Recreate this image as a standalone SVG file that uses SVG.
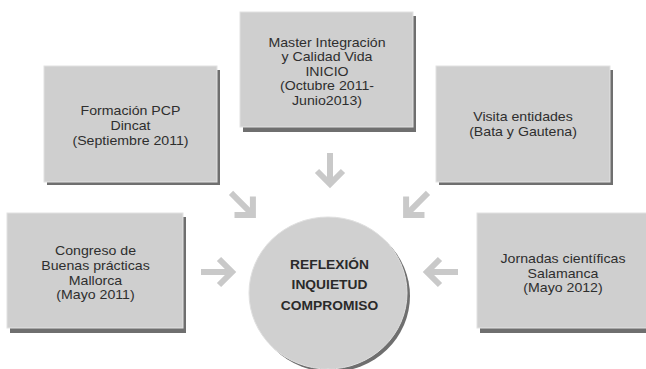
<svg xmlns="http://www.w3.org/2000/svg" width="646" height="369" viewBox="0 0 646 369">
  <style>
    .box { fill: #cfcfcf; stroke: #e2e2e2; stroke-width: 1; }
    .shadow { fill: #6f6f6f; }
    .t { font-family: "Liberation Sans", Arial, sans-serif; font-size: 12px; fill: #2e2e2e; text-anchor: middle; }
    .tb { font-family: "Liberation Sans", Arial, sans-serif; font-size: 12px; font-weight: bold; fill: #2a2a2a; text-anchor: middle; }
    .arrow { fill: none; stroke: #c9c9c9; stroke-width: 6; stroke-linejoin: miter; stroke-linecap: butt; }
  </style>
  <defs>
    <g id="arr">
      <path class="arrow" d="M0,-17 L0,13"/>
      <path class="arrow" d="M-13,1 L0,14 L13,1"/>
    </g>
  </defs>
  <rect width="646" height="369" fill="#ffffff"/>

  <g id="connectors">
    <use href="#arr" transform="translate(330,170)"/>
    <use href="#arr" transform="translate(243,205) rotate(-45)"/>
    <use href="#arr" transform="translate(416,205) rotate(45)"/>
    <use href="#arr" transform="translate(218,272) rotate(-90)"/>
    <use href="#arr" transform="translate(441,272) rotate(90)"/>
  </g>

  <g id="master">
    <rect class="shadow" x="243" y="16" width="173" height="116"/>
    <rect class="box" x="240" y="12" width="173" height="115"/>
    <g transform="translate(327,0) scale(1.18,1)">
      <text class="t" x="0" y="47">Master Integración</text>
      <text class="t" x="0" y="61.5">y Calidad Vida</text>
      <text class="t" x="0" y="76">INICIO</text>
      <text class="t" x="0" y="90.5">(Octubre 2011-</text>
      <text class="t" x="0" y="105">Junio2013)</text>
    </g>
  </g>

  <g id="formacion">
    <rect class="shadow" x="47" y="70" width="173" height="115"/>
    <rect class="box" x="44" y="66" width="173" height="116"/>
    <g transform="translate(130.5,0) scale(1.18,1)">
      <text class="t" x="0" y="115">Formación PCP</text>
      <text class="t" x="0" y="130">Dincat</text>
      <text class="t" x="0" y="145">(Septiembre 2011)</text>
    </g>
  </g>

  <g id="visita">
    <rect class="shadow" x="439" y="70" width="174" height="115"/>
    <rect class="box" x="436" y="66" width="174" height="116"/>
    <g transform="translate(523,0) scale(1.18,1)">
      <text class="t" x="0" y="121">Visita entidades</text>
      <text class="t" x="0" y="136">(Bata y Gautena)</text>
    </g>
  </g>

  <g id="congreso">
    <rect class="shadow" x="10" y="217" width="176" height="116"/>
    <rect class="box" x="7" y="213" width="176" height="115"/>
    <g transform="translate(95.5,0) scale(1.18,1)">
      <text class="t" x="0" y="255">Congreso de</text>
      <text class="t" x="0" y="270">Buenas prácticas</text>
      <text class="t" x="0" y="285">Mallorca</text>
      <text class="t" x="0" y="299.5">(Mayo 2011)</text>
    </g>
  </g>

  <g id="jornadas">
    <rect class="shadow" x="480" y="217" width="172" height="116"/>
    <rect class="box" x="477" y="213" width="172" height="115"/>
    <g transform="translate(563,0) scale(1.18,1)">
      <text class="t" x="0" y="263">Jornadas científicas</text>
      <text class="t" x="0" y="278">Salamanca</text>
      <text class="t" x="0" y="292.5">(Mayo 2012)</text>
    </g>
  </g>

  <g id="centro">
    <ellipse cx="331" cy="296" rx="79" ry="76" fill="#6f6f6f"/>
    <ellipse cx="328" cy="293" rx="79" ry="76" fill="#d0d0d0" stroke="#e0e0e0" stroke-width="1"/>
    <g transform="translate(329.5,0) scale(1.15,1)">
      <text class="tb" x="0" y="269">REFLEXIÓN</text>
      <text class="tb" x="0" y="289.5">INQUIETUD</text>
      <text class="tb" x="0" y="310">COMPROMISO</text>
    </g>
  </g>
</svg>
